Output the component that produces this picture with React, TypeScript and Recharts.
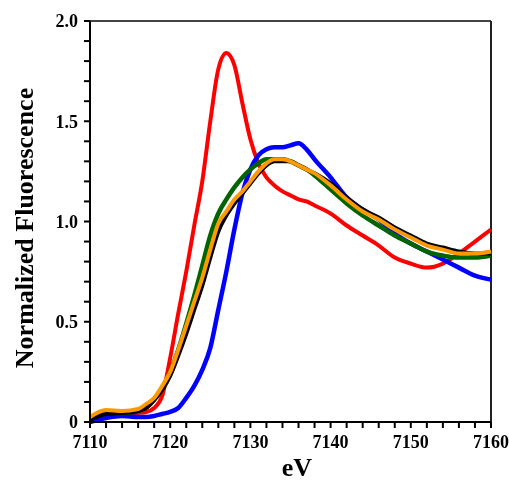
import React from 'react';
import { LineChart, Line, XAxis, YAxis, ReferenceLine, Label } from 'recharts';

const energies = [7110, 7112, 7114, 7116, 7117, 7118, 7119, 7120, 7121, 7122, 7123, 7124, 7125, 7126, 7127, 7128, 7129, 7130, 7131, 7132, 7133, 7134, 7135, 7136, 7137, 7138, 7140, 7142, 7144, 7146, 7148, 7150, 7152, 7154, 7156, 7158, 7160];

const redSeries = [0.02, 0.035, 0.04, 0.045, 0.05, 0.07, 0.13, 0.32, 0.54, 0.75, 0.98, 1.2, 1.5, 1.76, 1.84, 1.78, 1.59, 1.41, 1.29, 1.22, 1.18, 1.15, 1.13, 1.11, 1.1, 1.08, 1.04, 0.98, 0.93, 0.88, 0.82, 0.79, 0.77, 0.79, 0.84, 0.9, 0.96];
const blueSeries = [0.0, 0.02, 0.03, 0.025, 0.025, 0.03, 0.04, 0.05, 0.07, 0.12, 0.18, 0.26, 0.37, 0.56, 0.75, 0.96, 1.14, 1.26, 1.33, 1.36, 1.37, 1.37, 1.38, 1.39, 1.36, 1.31, 1.22, 1.12, 1.06, 1.01, 0.94, 0.89, 0.85, 0.81, 0.77, 0.73, 0.71];
const greenSeries = [0.01, 0.045, 0.045, 0.055, 0.07, 0.11, 0.17, 0.25, 0.36, 0.49, 0.63, 0.78, 0.93, 1.04, 1.11, 1.17, 1.22, 1.26, 1.29, 1.31, 1.31, 1.31, 1.3, 1.28, 1.26, 1.23, 1.16, 1.09, 1.03, 0.98, 0.93, 0.89, 0.85, 0.83, 0.82, 0.82, 0.83];
const blackSeries = [0.01, 0.04, 0.045, 0.055, 0.07, 0.11, 0.16, 0.23, 0.33, 0.44, 0.56, 0.68, 0.82, 0.95, 1.03, 1.09, 1.14, 1.19, 1.24, 1.28, 1.3, 1.3, 1.3, 1.28, 1.26, 1.24, 1.19, 1.12, 1.06, 1.02, 0.97, 0.93, 0.89, 0.87, 0.85, 0.84, 0.84];
const orangeSeries = [0.025, 0.06, 0.055, 0.065, 0.09, 0.12, 0.18, 0.25, 0.36, 0.48, 0.6, 0.72, 0.86, 0.99, 1.05, 1.11, 1.15, 1.2, 1.25, 1.29, 1.31, 1.31, 1.3, 1.28, 1.26, 1.24, 1.18, 1.11, 1.05, 1.01, 0.96, 0.92, 0.88, 0.86, 0.84, 0.84, 0.85];

const xTicks = [7110, 7112, 7114, 7116, 7118, 7120, 7122, 7124, 7126, 7128, 7130, 7132, 7134, 7136, 7138, 7140, 7142, 7144, 7146, 7148, 7150, 7152, 7154, 7156, 7158, 7160];
const xMajorLabels = ['7110', '7120', '7130', '7140', '7150', '7160'];
const yTicks = [0, 0.1, 0.2, 0.3, 0.4, 0.5, 0.6, 0.7, 0.8, 0.9, 1.0, 1.1, 1.2, 1.3, 1.4, 1.5, 1.6, 1.7, 1.8, 1.9, 2.0];
const yMajorLabels: Record<string, string> = { '0': '0', '0.5': '0.5', '1': '1.0', '1.5': '1.5', '2': '2.0' };

const data = energies.map((e, i) => ({
  e,
  red: redSeries[i],
  blue: blueSeries[i],
  green: greenSeries[i],
  black: blackSeries[i],
  orange: orangeSeries[i],
}));

const FONT = '"Liberation Serif", "Times New Roman", serif';
const tickStyle = { fontFamily: FONT, fontWeight: 700, fontSize: 18, fill: '#000' };

export default function App() {
  return (
    <div style={{ position: 'fixed', left: 0, top: 0, width: 509, height: 481 }}>
      <LineChart
        width={509}
        height={481}
        data={data}
        margin={{ top: 21, right: 18, left: 0, bottom: 0 }}
      >
        <XAxis
          dataKey="e"
          type="number"
          domain={[7110, 7160]}
          ticks={xTicks}
          interval={0}
          height={59}
          tickSize={6}
          tickMargin={7}
          tick={tickStyle}
          tickFormatter={(v: number) => (xMajorLabels.includes(String(v)) ? String(v) : '')}
          axisLine={{ stroke: '#000', strokeWidth: 2 }}
          tickLine={{ stroke: '#000', strokeWidth: 2 }}
        >
          <Label
            content={() => (
              <text x={297} y={476} textAnchor="middle" style={{ fontFamily: FONT, fontWeight: 700, fontSize: 26, fill: '#000' }}>
                eV
              </text>
            )}
          />
        </XAxis>
        <YAxis
          type="number"
          domain={[0, 2]}
          ticks={yTicks}
          interval={0}
          width={90}
          tickSize={6}
          tickMargin={6}
          tick={tickStyle}
          tickFormatter={(v: number) => yMajorLabels[String(Math.round(v * 10) / 10)] ?? ''}
          axisLine={{ stroke: '#000', strokeWidth: 2 }}
          tickLine={{ stroke: '#000', strokeWidth: 2 }}
        >
          <Label
            content={() => (
              <text
                x={33}
                y={228}
                textAnchor="middle"
                transform="rotate(-90 33 228)"
                style={{ fontFamily: FONT, fontWeight: 700, fontSize: 26, fill: '#000' }}
              >
                Normalized Fluorescence
              </text>
            )}
          />
        </YAxis>
        <ReferenceLine y={2} stroke="#444" strokeWidth={2} ifOverflow="visible" />
        <ReferenceLine x={7160} stroke="#222" strokeWidth={2} ifOverflow="visible" />
        <Line type="monotone" dataKey="red" stroke="#ff0000" strokeWidth={4} dot={false} isAnimationActive={false} />
        <Line type="monotone" dataKey="blue" stroke="#0000ff" strokeWidth={4.5} dot={false} isAnimationActive={false} />
        <Line type="monotone" dataKey="green" stroke="#006400" strokeWidth={4.5} dot={false} isAnimationActive={false} />
        <Line type="monotone" dataKey="black" stroke="#000000" strokeWidth={4} dot={false} isAnimationActive={false} />
        <Line type="monotone" dataKey="orange" stroke="#ff9900" strokeWidth={4} dot={false} isAnimationActive={false} />
      </LineChart>
    </div>
  );
}
